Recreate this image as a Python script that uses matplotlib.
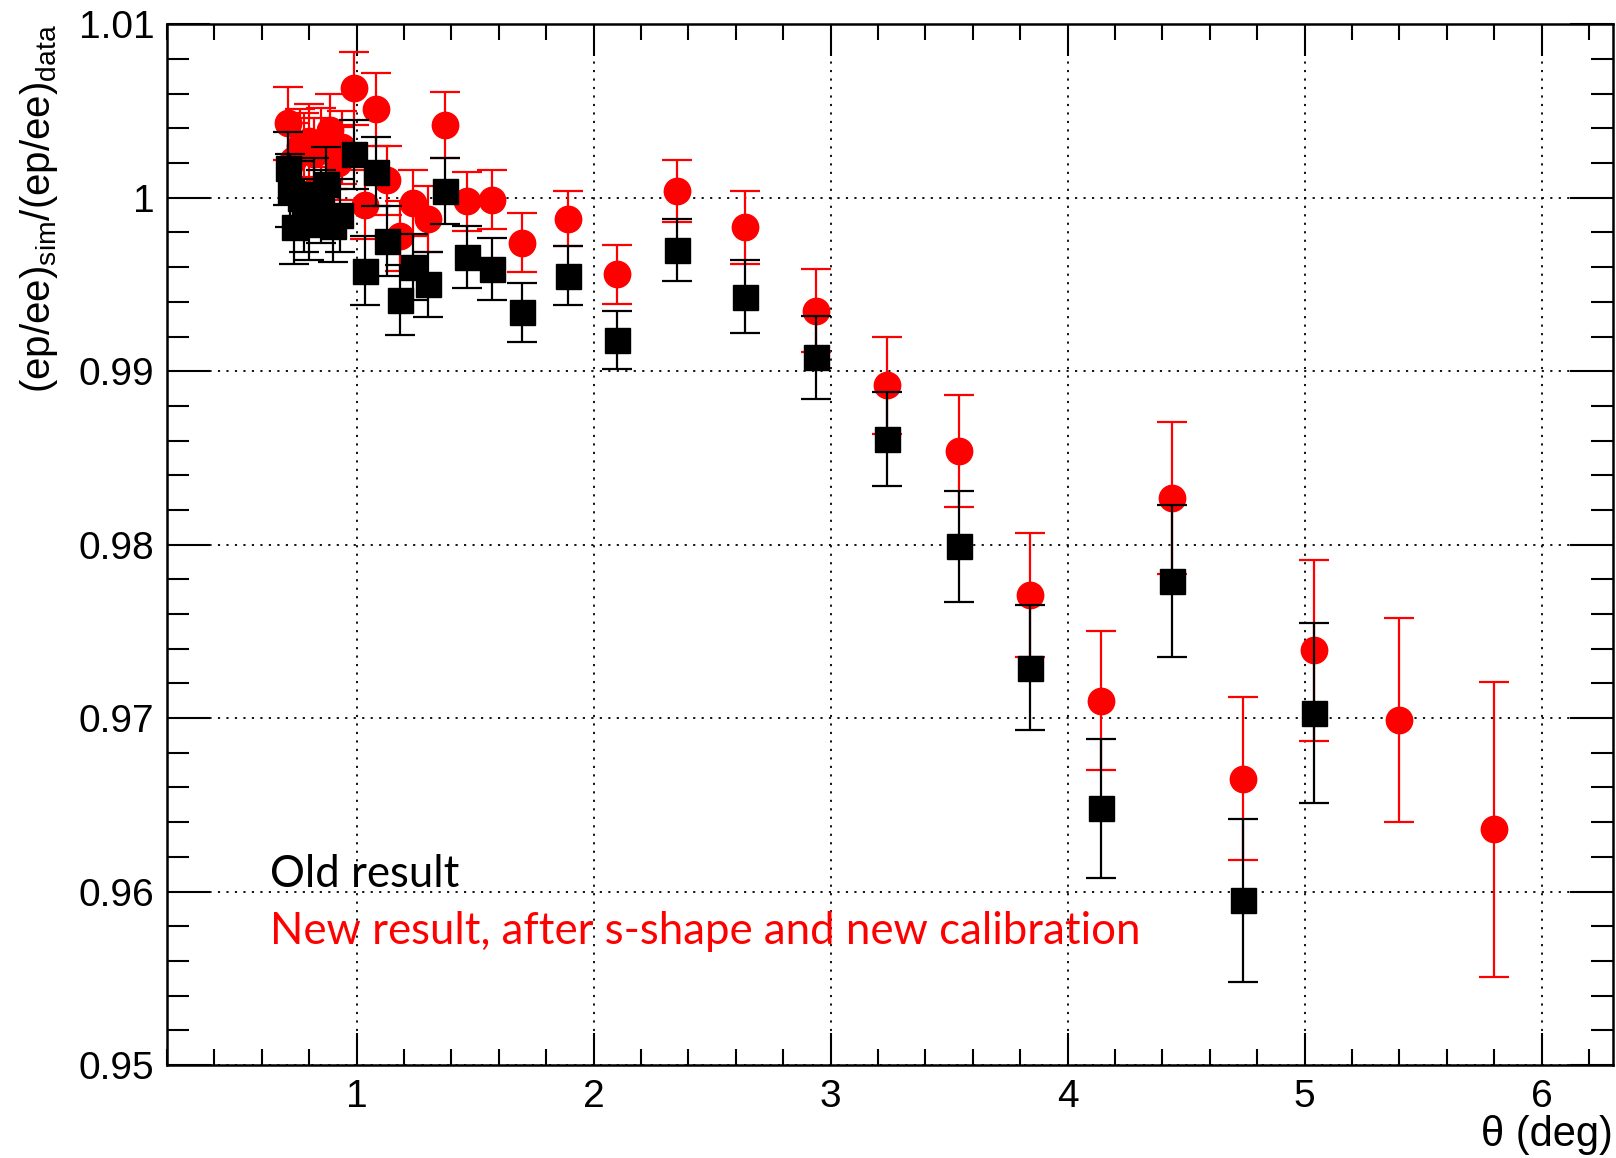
import numpy as np
import matplotlib
matplotlib.use('Agg')
from matplotlib import pyplot as plt
from matplotlib.ticker import MultipleLocator

# theta bins (deg)
theta_old = [0.71, 0.72, 0.735, 0.76, 0.78, 0.80, 0.82, 0.85, 0.87, 0.90, 0.93,
             0.99, 1.035, 1.08, 1.13, 1.185, 1.24, 1.30, 1.375, 1.465, 1.57,
             1.70, 1.89, 2.10, 2.35, 2.64, 2.94, 3.24, 3.54, 3.84, 4.14, 4.44,
             4.74, 5.04]
ratio_old = [1.0017, 1.0004, 0.9983, 1.0000, 0.9990, 0.9985, 1.0002, 0.9995,
             1.0008, 0.9984, 0.9990, 1.0025, 0.9958, 1.0015, 0.9975, 0.9941,
             0.9960, 0.9950, 1.0004, 0.9966, 0.9959, 0.9934, 0.9955, 0.9918,
             0.9970, 0.9943, 0.9908, 0.9861, 0.9799, 0.9729, 0.9648, 0.9779,
             0.9595, 0.9703]
err_old = [0.0021, 0.0021, 0.0021, 0.0021, 0.0021, 0.0021, 0.0021, 0.0021,
           0.0021, 0.0021, 0.0021, 0.0020, 0.0020, 0.0020, 0.0020, 0.0020,
           0.0019, 0.0019, 0.0019, 0.0018, 0.0018, 0.0017, 0.0017, 0.0017,
           0.0018, 0.0021, 0.0024, 0.0027, 0.0032, 0.0036, 0.0040, 0.0044,
           0.0047, 0.0052]

theta_new = [0.71, 0.73, 0.76, 0.78, 0.80, 0.82, 0.85, 0.89, 0.92, 0.94,
             0.99, 1.035, 1.08, 1.13, 1.185, 1.24, 1.30, 1.375, 1.465, 1.57,
             1.70, 1.89, 2.10, 2.35, 2.64, 2.94, 3.24, 3.54, 3.84, 4.14, 4.44,
             4.74, 5.04, 5.40, 5.80]
ratio_new = [1.0043, 1.0022, 1.0030, 1.0028, 1.0033, 1.0025, 1.0031, 1.0039,
             1.0020, 1.0029, 1.0063, 0.9996, 1.0051, 1.0010, 0.9978, 0.9997,
             0.9988, 1.0042, 0.9998, 0.9999, 0.9974, 0.9988, 0.9956, 1.0004,
             0.9983, 0.9935, 0.9892, 0.9854, 0.9771, 0.9710, 0.9827, 0.9665,
             0.9739, 0.9699, 0.9636]
err_new = [0.0021, 0.0021, 0.0021, 0.0021, 0.0021, 0.0021, 0.0021, 0.0021,
           0.0021, 0.0021, 0.0021, 0.0020, 0.0021, 0.0020, 0.0020, 0.0019,
           0.0019, 0.0019, 0.0017, 0.0017, 0.0017, 0.0016, 0.0017, 0.0018,
           0.0021, 0.0024, 0.0028, 0.0032, 0.0036, 0.0040, 0.0044, 0.0047,
           0.0052, 0.0059, 0.0085]

plt.rcParams['font.family'] = ['Liberation Sans', 'DejaVu Sans']
plt.rcParams['mathtext.fontset'] = 'custom'
plt.rcParams['mathtext.rm'] = 'Liberation Sans'
plt.rcParams['mathtext.it'] = 'Liberation Sans'

fig = plt.figure(figsize=(16.16, 11.58), dpi=100)
ax = fig.add_axes([0.1033, 0.0803, 0.8947, 0.8987])

ax.errorbar(theta_new, ratio_new, yerr=err_new, fmt='o', color='#ff0000',
            ms=19, elinewidth=1.6, capsize=11, capthick=1.6, zorder=3)
ax.errorbar(theta_old, ratio_old, yerr=err_old, fmt='s', color='black',
            ms=18, elinewidth=1.6, capsize=11, capthick=1.6, zorder=4)

ax.set_xlim(0.2, 6.3)
ax.set_ylim(0.95, 1.01)
ax.xaxis.set_minor_locator(MultipleLocator(0.2))
ax.yaxis.set_minor_locator(MultipleLocator(0.002))
ax.set_yticks([0.95, 0.96, 0.97, 0.98, 0.99, 1.0, 1.01])
ax.set_yticklabels(['0.95', '0.96', '0.97', '0.98', '0.99', '1', '1.01'])
ax.set_xticks([1, 2, 3, 4, 5, 6])
ax.set_xticklabels(['1', '2', '3', '4', '5', '6'])

ax.tick_params(axis='x', which='major', direction='in', top=True, length=23,
               width=1.5, labelsize=28, pad=10)
ax.tick_params(axis='x', which='minor', direction='in', top=True, length=11.5,
               width=1.5)
ax.tick_params(axis='y', which='major', direction='in', right=True, length=31,
               width=1.5, labelsize=28, pad=9)
ax.tick_params(axis='y', which='minor', direction='in', right=True, length=15.5,
               width=1.5)
for s in ax.spines.values():
    s.set_linewidth(1.8)

ax.grid(True, which='major', color='black', linestyle=(0, (1.2, 3.5)),
        linewidth=1.3, zorder=1)
ax.set_axisbelow(True)

ax.set_ylabel(r'(ep/ee)$_{\rm sim}$/(ep/ee)$_{\rm data}$', fontsize=29, loc='top')
ax.yaxis.set_label_coords(-0.074, 1.0)
ax.set_xlabel('θ (deg)', fontsize=30, loc='right', labelpad=0)

ax.text(0.634, 0.9610, 'Old result', color='black', fontsize=31.5,
        family=['Lato', 'DejaVu Sans'], va='center', ha='left', zorder=5)
ax.text(0.634, 0.9577, 'New result, after s-shape and new calibration',
        color='#ff0000', fontsize=31.5, family=['Lato', 'DejaVu Sans'],
        va='center', ha='left', zorder=5)

fig.savefig('out.png', dpi=100)
